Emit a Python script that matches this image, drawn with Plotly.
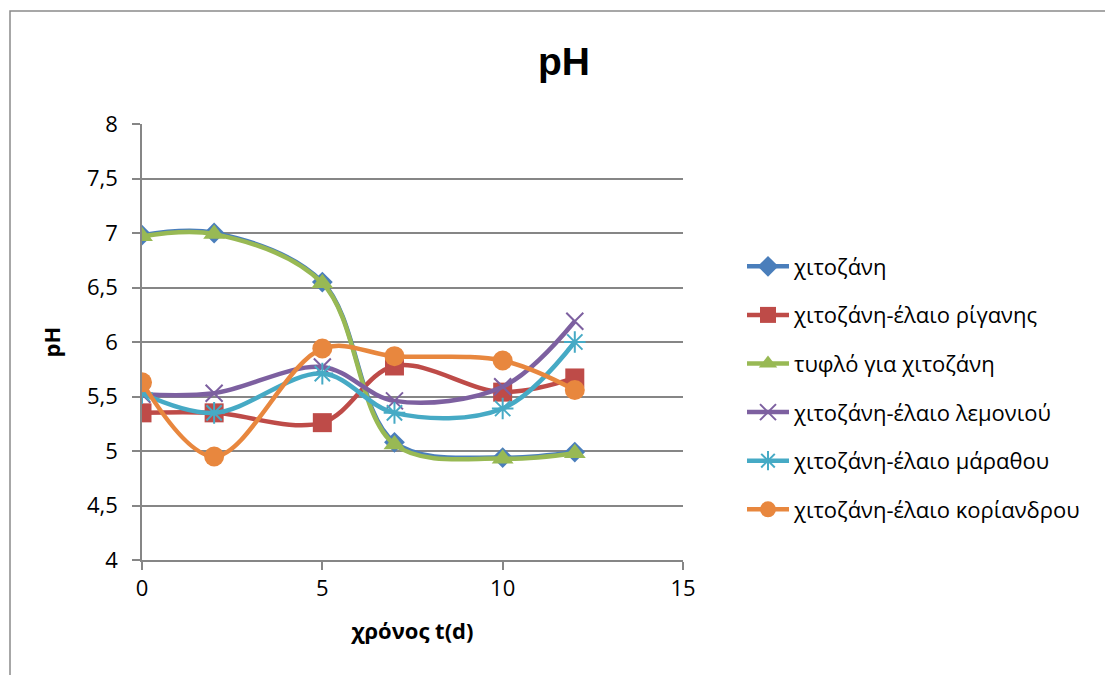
import plotly.graph_objects as go

days = [0, 2, 5, 7, 10, 12]
series_names = [
    "χιτοζάνη",
    "χιτοζάνη-έλαιο ρίγανης",
    "τυφλό για χιτοζάνη",
    "χιτοζάνη-έλαιο λεμονιού",
    "χιτοζάνη-έλαιο μάραθου",
    "χιτοζάνη-έλαιο κορίανδρου",
]
chitosan = [6.98, 7.00, 6.55, 5.08, 4.94, 4.99]
oregano = [5.35, 5.35, 5.26, 5.78, 5.54, 5.67]
blank = [6.97, 6.99, 6.54, 5.06, 4.93, 4.98]
lemon = [5.52, 5.53, 5.77, 5.46, 5.59, 6.19]
fennel = [5.53, 5.35, 5.71, 5.35, 5.39, 6.00]
coriander = [5.63, 4.95, 5.94, 5.87, 5.83, 5.56]

values = [chitosan, oregano, blank, lemon, fennel, coriander]
colors = ["#4A7EBB", "#BE4B48", "#98B954", "#7D60A0", "#46AAC5", "#E8873E"]
symbols = ["diamond", "square", "triangle-up", "x-thin-open", "asterisk-open", "circle"]
sizes = [16, 19, 19, 17, 18, 20]

W, H = 1105, 675
L, R, T, B = 142, 1105 - 683, 124, 675 - 560
pw, ph = W - L - R, H - T - B
FONT = "Open Sans, Liberation Sans, sans-serif"

fig = go.Figure()
for i, (n, v) in enumerate(zip(series_names, values)):
    open_sym = symbols[i].endswith("open")
    fig.add_trace(go.Scatter(
        x=days, y=v, name=n, mode="lines+markers",
        line=dict(color=colors[i], width=4.5, shape="spline", smoothing=1.0),
        marker=dict(symbol=symbols[i], size=sizes[i], color=colors[i],
                    line=dict(color=colors[i], width=2 if open_sym else 0)),
        legendgroup=f"g{i}",
    ))

fig.update_layout(
    width=W, height=H,
    margin=dict(l=L, r=R, t=T, b=B),
    paper_bgcolor="white", plot_bgcolor="white",
    font=dict(family=FONT, size=22, color="black"),
    title=dict(text="<b>pH</b>", x=564 / W, xanchor="center", y=1 - 61 / H, yanchor="middle",
               font=dict(family="Liberation Sans, Arial, sans-serif", size=39, color="black")),
    showlegend=True,
    legend=dict(x=(742 - L) / pw, xanchor="left", y=(560 - 388) / ph, yanchor="middle",
                font=dict(family=FONT, size=22), tracegroupgap=17, bgcolor="rgba(0,0,0,0)",
                itemwidth=42),
    xaxis=dict(range=[0, 15], tickvals=[0, 5, 10, 15], showgrid=False, zeroline=False,
               showline=True, linecolor="#868686", linewidth=1.5,
               ticks="outside", ticklen=8, tickcolor="#868686", tickwidth=1.5,
               tickfont=dict(size=22),
               title=dict(text="<b>χρόνος t(d)</b>", font=dict(size=22), standoff=22)),
    yaxis=dict(range=[4, 8], tickvals=[4, 4.5, 5, 5.5, 6, 6.5, 7, 7.5, 8],
               ticktext=["4", "4,5", "5", "5,5", "6", "6,5", "7", "7,5", "8"],
               showgrid=True, gridcolor="#868686", gridwidth=1.5, zeroline=False,
               showline=True, linecolor="#868686", linewidth=1.5,
               ticks="outside", ticklen=8, tickcolor="#868686", tickwidth=1.5,
               tickfont=dict(size=22), ticklabelstandoff=10,
               title=dict(text="<b>pH</b>", font=dict(size=22), standoff=20)),
)

# outer chart border (frame at top-left, extends past right/bottom edges)
fig.add_shape(type="rect", xref="paper", yref="paper",
              x0=(10 - L) / pw, x1=(W + 20 - L) / pw,
              y0=-(B + 20) / ph, y1=(H - B - 11) / ph,
              line=dict(color="#8a8a8a", width=1.5), fillcolor="rgba(0,0,0,0)", layer="below")

fig.write_html("out.html")
